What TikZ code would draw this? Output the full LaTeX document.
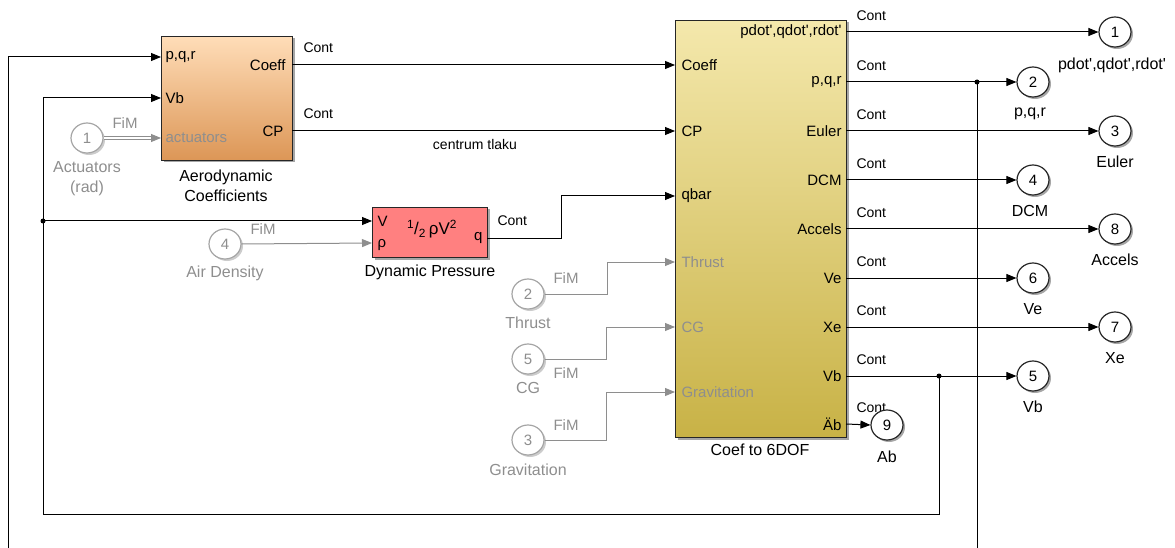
\documentclass[tikz,border=0pt]{standalone}
\usepackage{fontspec}
\setmainfont{Liberation Sans}
\usetikzlibrary{arrows.meta,shapes.geometric,shadows,calc}
\definecolor{fimc}{HTML}{8E8E8E}
\definecolor{orTop}{HTML}{FFDDB8}
\definecolor{orBot}{HTML}{DC9656}
\definecolor{ylTop}{HTML}{F4E8AC}
\definecolor{ylBot}{HTML}{C8B246}
\definecolor{redF}{HTML}{FF8080}
\newcommand\fCont{\fontsize{14}{16}\selectfont}
\newcommand\fPort{\fontsize{15}{17}\selectfont}
\newcommand\fName{\fontsize{16}{20}\selectfont}
\newcommand\qq{\textquotesingle}
\begin{document}
\begin{tikzpicture}[x=1pt,y=-1pt,
  line width=1pt,
  shd/.style={drop shadow={shadow xshift=2pt,shadow yshift=-2pt,opacity=0.35,fill=black}},
  blk/.style={draw=black!85,line width=1pt,inner sep=0pt,anchor=north west,shd},
  plab/.style={inner sep=0pt,font=\fPort},
  glab/.style={inner sep=0pt,font=\fPort,text=fimc},
  cont/.style={inner sep=0pt,font=\fCont,anchor=west},
  bname/.style={inner sep=0pt,font=\fName,align=center},
  gname/.style={inner sep=0pt,font=\fName,align=center,text=fimc},
  oport/.style={ellipse,draw=black!85,line width=1.2pt,fill=white,minimum width=32pt,minimum height=30pt,inner sep=0pt,font=\fPort,shd},
  iport/.style={ellipse,draw=fimc!80,line width=1.2pt,fill=white,minimum width=32pt,minimum height=30pt,inner sep=0pt,font=\fPort,text=fimc,drop shadow={shadow xshift=2pt,shadow yshift=-2pt,opacity=0.2,fill=black}},
  arr/.style={-{Triangle[length=10pt,width=8pt]}},
  fim/.style={draw=fimc},
  garr/.style={draw=fimc,-{Triangle[length=10pt,width=8pt]},fimc},
  jdot/.style={circle,fill=black,inner sep=0pt,minimum size=5pt}
]
\useasboundingbox (0,0) rectangle (1175,548);

% ---------- blocks ----------
\node[blk,top color=orTop,bottom color=orBot,minimum width=131pt,minimum height=124pt] (aero) at (161,36) {};
\node[blk,fill=redF,minimum width=115pt,minimum height=50pt] (dyn) at (372,207) {};
\node[blk,top color=ylTop,bottom color=ylBot,minimum width=171pt,minimum height=417pt] (coef) at (675,20) {};

% ---------- port coordinates ----------
\coordinate (a-pqr) at (161,57);
\coordinate (a-vb) at (161,98);
\coordinate (a-act) at (161,138);
\coordinate (a-coeff) at (292,65);
\coordinate (a-cp) at (292,131);
\coordinate (d-v) at (372,221);
\coordinate (d-rho) at (372,243);
\coordinate (d-q) at (487,238);
\coordinate (c-coeff) at (675,65);
\coordinate (c-cp) at (675,131);
\coordinate (c-qbar) at (675,196);
\coordinate (c-thr) at (675,262);
\coordinate (c-cg) at (675,327);
\coordinate (c-grv) at (675,392);
\foreach \n/\y in {1/32,2/82,3/131,4/180,5/229,6/278,7/327,8/376,9/424}
  \coordinate (c-o\n) at (846,\y);

% ---------- port labels ----------
\node[plab,anchor=west] (l-apqr) at (165,57) {p,q,r};
\node[plab,anchor=west] (l-avb) at (165,98) {Vb};
\node[glab,anchor=west] (l-aact) at (165,138) {actuators};
\node[plab,anchor=east] (l-acoeff) at (286,65) {Coeff};
\node[plab,anchor=east] (l-acp) at (284,131) {CP};

\node[plab,anchor=west] (l-dv) at (377,221) {V};
\node[plab,anchor=west] (l-drho) at (377,245) {ρ};
\node[plab,anchor=east] (l-dq) at (483,238) {q};
\node[inner sep=0pt,font=\fontsize{17}{19}\selectfont] (l-dform) at (432,229) {\textsuperscript{1}/\textsubscript{2}\,ρV\textsuperscript{2}};

\node[plab,anchor=west] (l-ccoeff) at (681,65) {Coeff};
\node[plab,anchor=west] (l-ccp) at (681,131) {CP};
\node[plab,anchor=west] (l-cqbar) at (681,196) {qbar};
\node[glab,anchor=west] (l-cthr) at (681,262) {Thrust};
\node[glab,anchor=west] (l-ccg) at (681,327) {CG};
\node[glab,anchor=west] (l-cgrv) at (681,392) {Gravitation};
\foreach \n/\t in {1/{pdot\qq,qdot\qq,rdot\qq},2/{p,q,r},3/Euler,4/DCM,5/Accels,6/Ve,7/Xe,8/Vb,9/Äb}
  \node[plab,anchor=east] (l-co\n) at ($(c-o\n)+(-4,0)$) {\t};

% ---------- block names ----------
\node[bname] (n-aero) at (226,186) {Aerodynamic\\Coefficients};
\node[bname] (n-dyn) at (430,272) {Dynamic Pressure};
\node[bname] (n-coef) at (760,450) {Coef to 6DOF};

% ---------- Cont labels ----------
\node[cont] (k1) at (303,48) {Cont};
\node[cont] (k2) at (303,114) {Cont};
\node[cont] (k3) at (497,221) {Cont};
\foreach \n in {1,...,9}
  \node[cont] (kc\n) at ($(c-o\n)+(10,-16)$) {Cont};
\node[inner sep=0pt,font=\fCont] (ctl) at (475,144) {centrum tlaku};

% ---------- input ports (grey) ----------
\node[iport] (act) at (87,138) {1};
\node[gname] (n-act) at (87,179) {Actuators\\(rad)};
\node[iport] (air) at (225,244) {4};
\node[gname] (n-air) at (225,273) {Air Density};
\node[iport] (thr) at (528,294) {2};
\node[gname] (n-thr) at (528,323) {Thrust};
\node[iport] (cgc) at (528,359) {5};
\node[gname] (n-cgc) at (528,388) {CG};
\node[iport] (grv) at (528,440) {3};
\node[gname] (n-grv) at (528,470) {Gravitation};
\node[glab] (f1) at (125,123) {FiM};
\node[glab] (f2) at (263,229) {FiM};
\node[glab] (f3) at (566,278) {FiM};
\node[glab] (f4) at (566,373) {FiM};
\node[glab] (f5) at (566,425) {FiM};

% ---------- grey connectors ----------
\draw[fim,double=white,double distance=1.5pt,line width=0.9pt] (act.east) -- ($(a-act)+(-9,0)$);
\draw[garr] ($(a-act)+(-10,0)$) -- (a-act);
\draw[garr] (air.east) -- (d-rho);
\draw[garr] (thr.east) -- (607,294) -- (607,262) -- (c-thr);
\draw[garr] (cgc.east) -- (606,359) -- (606,327) -- (c-cg);
\draw[garr] (grv.east) -- (606,440) -- (606,392) -- (c-grv);

% ---------- black connectors ----------
\draw[arr] (a-coeff) -- (c-coeff);
\draw[arr] (a-cp) -- (c-cp);
\draw[arr] (d-q) -- (561,238) -- (561,196) -- (c-qbar);

% output ports
\node[oport] (o1) at (1115,32) {1};
\node[oport] (o2) at (1033,82) {2};
\node[oport] (o3) at (1115,131) {3};
\node[oport] (o4) at (1033,180) {4};
\node[oport] (o8) at (1115,229) {8};
\node[oport] (o6) at (1033,278) {6};
\node[oport] (o7) at (1115,327) {7};
\node[oport] (o5) at (1033,376) {5};
\node[oport] (o9) at (887,425) {9};

\node[bname] (n-o1) at (1112,65) {pdot\qq,qdot\qq,rdot\qq};
\node[bname] (n-o2) at (1030,114) {p,q,r};
\node[bname] (n-o3) at (1115,162) {Euler};
\node[bname] (n-o4) at (1030,211) {DCM};
\node[bname] (n-o8) at (1115,260) {Accels};
\node[bname] (n-o6) at (1033,309) {Ve};
\node[bname] (n-o7) at (1115,358) {Xe};
\node[bname] (n-o5) at (1033,407) {Vb};
\node[bname] (n-o9) at (887,457) {Ab};

\draw[arr] (c-o1) -- (o1.west);
\draw[arr] (c-o2) -- (o2.west);
\draw[arr] (c-o3) -- (o3.west);
\draw[arr] (c-o4) -- (o4.west);
\draw[arr] (c-o5) -- (o8.west);
\draw[arr] (c-o6) -- (o6.west);
\draw[arr] (c-o7) -- (o7.west);
\draw[arr] (c-o8) -- (o5.west);
\draw[arr] (c-o9) -- (o9.west);

% feedback p,q,r
\node[jdot] (j1) at (977,82) {};
\coordinate (bR) at (977,552);
\coordinate (bL) at (8,552);
\draw (j1.center) -- (bR);
\draw[arr] (bL) -- (8,57) -- (a-pqr);

% feedback Vb
\node[jdot] (j2) at (939,376) {};
\node[jdot] (j3) at (43,221) {};
\draw (j2.center) -- (939,514) -- (43,514) -- (j3.center);
\draw[arr] (j3.center) -- (43,98) -- (a-vb);
\draw[arr] (j3.center) -- (d-v);
\end{tikzpicture}
\end{document}
